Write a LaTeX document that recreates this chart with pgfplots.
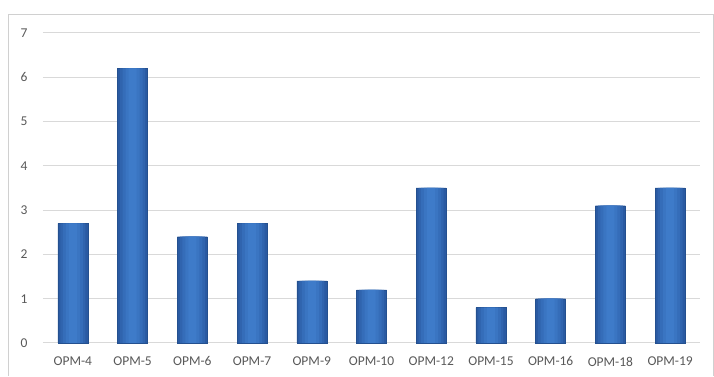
\documentclass[border=0pt]{standalone}
\usepackage{fontspec}
\setmainfont{Carlito}
\usepackage{pgfplots}
\pgfplotsset{compat=1.18}
\definecolor{gridgray}{HTML}{D9D9D9}
\definecolor{framegray}{HTML}{D0D0D0}
\definecolor{ticktext}{HTML}{595959}
\definecolor{barA}{HTML}{2A5AA2}
\definecolor{barB}{HTML}{3064AE}
\definecolor{barC}{HTML}{356DB9}
\definecolor{barD}{HTML}{3A75C2}
\definecolor{barE}{HTML}{3E7BC9}
\definecolor{baredge}{HTML}{24508F}
\pgfplotstableread{
x  v
0  2.7
1  6.2
2  2.4
3  2.7
4  1.4
5  1.2
6  3.5
7  0.8
8  1.0
9  3.1
10 3.5
}\opmdata
\begin{document}
\begin{tikzpicture}[x=1pt,y=1pt]
  % page extent and chart frame (bottom edge falls outside the page)
  \path[fill=white] (0,0) rectangle (714,376);
  \draw[framegray, line width=0.8pt] (8,0) -- (8,362) -- (713.4,362) -- (713.4,0);
  \begin{axis}[
    at={(43pt,33pt)}, anchor=south west,
    scale only axis,
    width=657pt, height=310pt,
    xmin=-0.5, xmax=10.5,
    ymin=0, ymax=7,
    ytick={0,1,...,7},
    xtick={0,...,10},
    xticklabels={OPM-4,OPM-5,OPM-6,OPM-7,OPM-9,OPM-10,OPM-12,OPM-15,OPM-16,OPM-18,OPM-19},
    axis line style={draw=none},
    tick style={draw=none},
    ymajorgrids,
    grid style={gridgray, line width=1pt},
    ticklabel style={font=\fontsize{13.5}{15}\selectfont, text=ticktext},
    /pgf/number format/assume math mode=true,
    yticklabel style={xshift=-12pt},
    xticklabel style={yshift=-6pt},
    clip=false,
    ybar, bar shift=0pt,
  ]
    % each bar is drawn in layers, darkest and widest first, for a rounded look
    \addplot[draw=baredge, line width=0.4pt, fill=barA, bar width=30pt] table[x=x,y=v] {\opmdata};
    \addplot[draw=none, fill=barB, bar width=25pt] table[x=x,y=v] {\opmdata};
    \addplot[draw=none, fill=barC, bar width=20pt] table[x=x,y=v] {\opmdata};
    \addplot[draw=none, fill=barD, bar width=14pt] table[x=x,y=v] {\opmdata};
    \addplot[draw=none, fill=barE, bar width=8pt] table[x=x,y=v] {\opmdata};
  \end{axis}
\end{tikzpicture}
\end{document}
